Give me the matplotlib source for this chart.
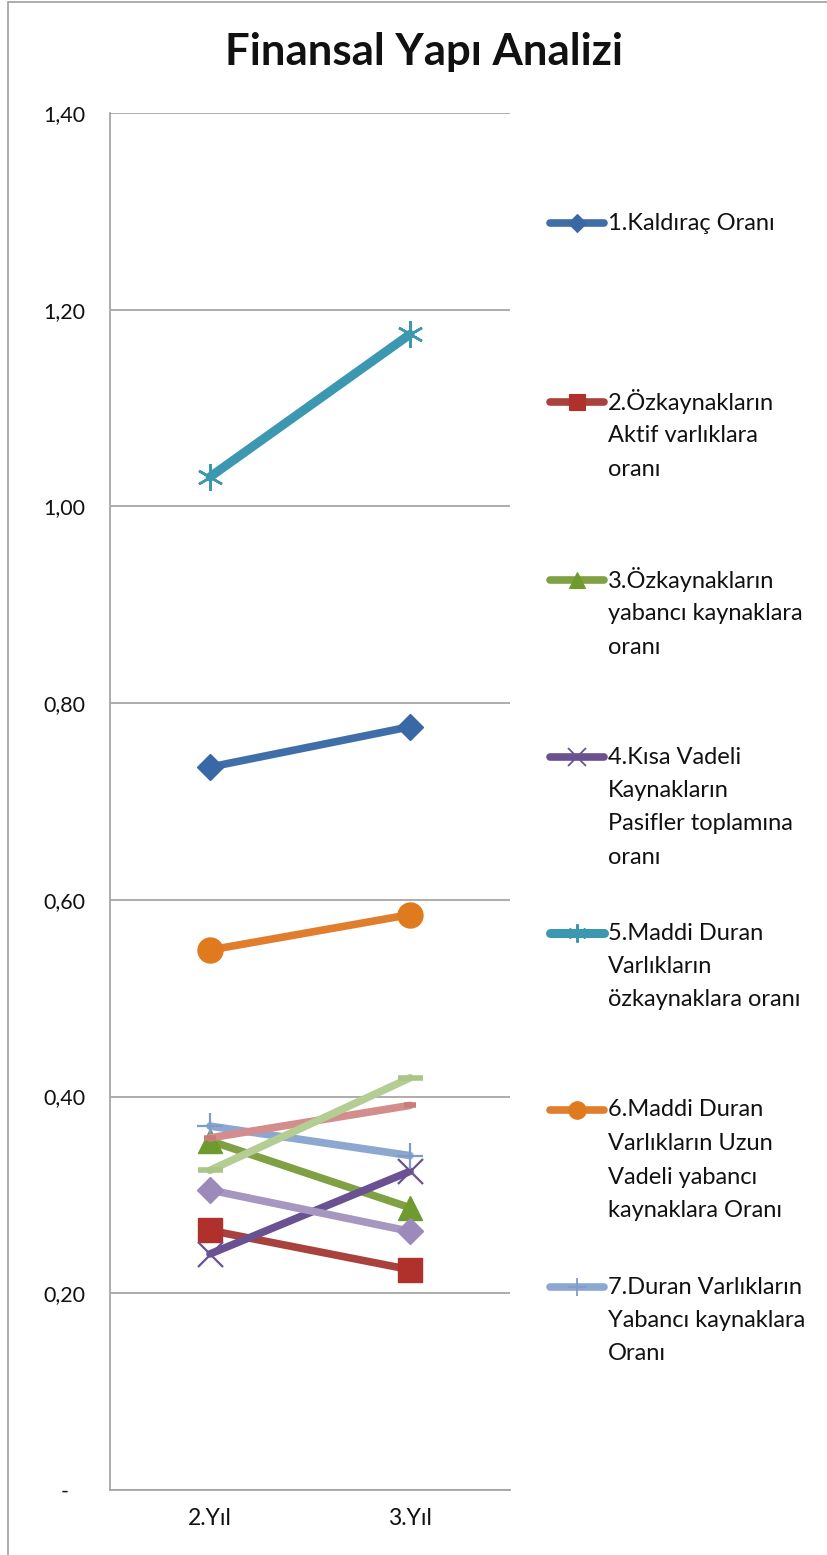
import matplotlib.pyplot as plt
from matplotlib.patches import Rectangle
from matplotlib.ticker import FixedLocator

plt.rcParams['font.family'] = ['Lato', 'DejaVu Sans']

# categories
years = ['2.Yıl', '3.Yıl']

# series values
kaldirac = [0.735, 0.776]
ozk_aktif = [0.264, 0.224]
ozk_yabanci = [0.355, 0.287]
kisa_vadeli = [0.240, 0.324]
mdv_ozk = [1.030, 1.175]
mdv_uzun = [0.549, 0.585]
duran_yabanci = [0.370, 0.340]
seri8 = [0.358, 0.391]
seri9 = [0.305, 0.263]
seri10 = [0.325, 0.419]

yticks = [0, 0.2, 0.4, 0.6, 0.8, 1.0, 1.2, 1.4]
ytick_labels = ['-', '0,20', '0,40', '0,60', '0,80', '1,00', '1,20', '1,40']

legend_labels = [
    ['1.Kaldıraç Oranı'],
    ['2.Özkaynakların', 'Aktif varlıklara', 'oranı'],
    ['3.Özkaynakların', 'yabancı kaynaklara', 'oranı'],
    ['4.Kısa Vadeli', 'Kaynakların', 'Pasifler toplamına', 'oranı'],
    ['5.Maddi Duran', 'Varlıkların', 'özkaynaklara oranı'],
    ['6.Maddi Duran', 'Varlıkların Uzun', 'Vadeli yabancı', 'kaynaklara Oranı'],
    ['7.Duran Varlıkların', 'Yabancı kaynaklara', 'Oranı'],
]

# (values, line colour, marker, marker face, marker size, marker edge width, line width)
styles = [
    (kaldirac, '#3F6EA8', 'D', '#3A68A6', 13, 1, 5.5),
    (ozk_aktif, '#A9413E', 's', '#B0302C', 17, 1, 5.5),
    (ozk_yabanci, '#80A044', '^', '#6E9A2E', 17, 1, 5.5),
    (kisa_vadeli, '#6A5192', 'x', '#6A5192', 18, 1.6, 5.5),
    (mdv_ozk, '#3C97B0', (6, 2, 0), '#3C97B0', 19, 1.8, 6.5),
    (mdv_uzun, '#E07E2E', 'o', '#E07A1E', 18, 1, 5.5),
    (duran_yabanci, '#8DA8D0', '+', '#7E9CC8', 19, 1.6, 5.5),
    (seri8, '#D38D8C', '_', '#C97C7B', 9, 4, 5.5),
    (seri9, '#A697C0', 'D', '#9C8BBA', 13, 1, 5.5),
    (seri10, '#B3CD92', '_', '#A9C686', 18, 4, 5.5),
]

W, H = 828, 1555
fig = plt.figure(figsize=(W / 100, H / 100), dpi=100)

# chart area border (cut off at right and bottom)
fig.add_artist(Rectangle((8 / W, -0.1), 1.2, 1.1 - 2 / H, transform=fig.transFigure,
                         fill=False, edgecolor='#A0A0A0', linewidth=1.2))

ax = fig.add_axes([110 / W, 1 - 1490 / H, 400 / W, (1490 - 113) / H])
x = [0, 1]
for vals, col, mk, mfc, ms, mew, lw in styles:
    ax.plot(x, vals, color=col, linewidth=lw, solid_capstyle='round',
            marker=mk, markersize=ms, markerfacecolor=mfc, markeredgecolor=mfc,
            markeredgewidth=mew)

ax.set_xlim(-0.5, 1.5)
ax.set_ylim(0, 1.4)
ax.yaxis.set_major_locator(FixedLocator(yticks))
ax.set_yticklabels(ytick_labels)
ax.set_xticks(x)
ax.set_xticklabels(years)
ax.grid(True, axis='y', color='#A6A6A6', linewidth=1.3)
ax.set_axisbelow(True)
for s in ['top', 'right']:
    ax.spines[s].set_visible(False)
for s in ['left', 'bottom']:
    ax.spines[s].set_color('#A6A6A6')
    ax.spines[s].set_linewidth(1.3)
ax.tick_params(axis='y', length=0, pad=33, labelsize=15.5, labelcolor='#111111')
ax.tick_params(axis='x', length=0, pad=13, labelsize=16.5, labelcolor='#111111')
for t in ax.get_yticklabels():
    t.set_horizontalalignment('center')

fig.text(424 / W, 1 - 52 / H, 'Finansal Yapı Analizi', ha='center', va='center',
         fontsize=31.5, fontweight='bold', color='#111111')

# legend, drawn in pixel coordinates
lax = fig.add_axes([0, 0, 1, 1])
lax.set_xlim(0, W)
lax.set_ylim(H, 0)
lax.axis('off')
entry_y = [223, 402, 580, 757, 933, 1110, 1287]
for (vals, col, mk, mfc, ms, mew, lw), lines, y in zip(styles, legend_labels, entry_y):
    lax.plot([550, 604], [y, y], color=col, linewidth=lw, solid_capstyle='round')
    lax.plot([577], [y], marker=mk, markersize=ms * 0.7, color=mfc,
             markeredgewidth=mew * 0.8, linestyle='none')
    for i, line in enumerate(lines):
        lax.text(608, y + i * 33.5, line, ha='left', va='center', fontsize=17,
                 color='#111111')

fig.savefig('out.png', dpi=100)
